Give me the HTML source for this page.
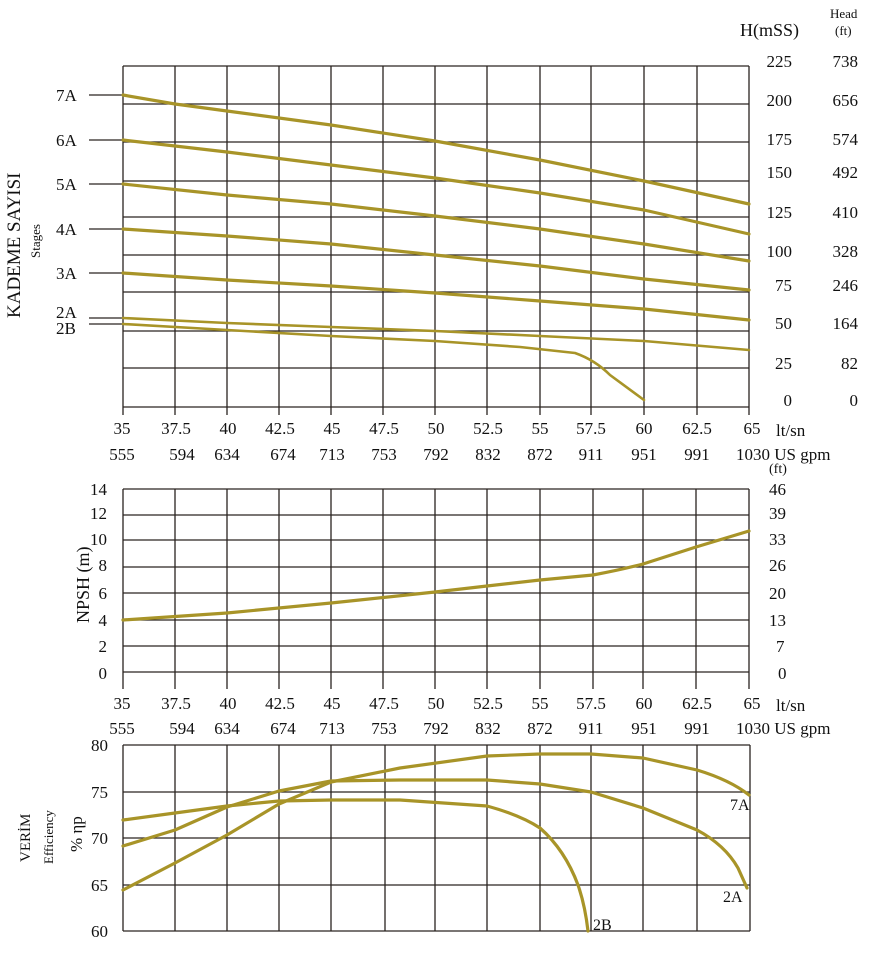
<!DOCTYPE html>
<html><head><meta charset="utf-8"><style>
body{margin:0;background:#fff}
svg{display:block}
text{font-family:"Liberation Serif",serif;fill:#111}
.g line{stroke:#2a2420;stroke-width:1.3}
.c{fill:none;stroke:#a89428;stroke-width:3.2;stroke-linecap:round;stroke-linejoin:round}
.t{font-size:17px}
</style></head><body>
<svg width="870" height="957" viewBox="0 0 870 957">
<!-- TOP CHART -->
<g class="g">
<line x1="123" y1="66" x2="749" y2="66"/><line x1="123" y1="104" x2="749" y2="104"/><line x1="123" y1="142" x2="749" y2="142"/><line x1="123" y1="181" x2="749" y2="181"/><line x1="123" y1="217" x2="749" y2="217"/><line x1="123" y1="255" x2="749" y2="255"/><line x1="123" y1="292" x2="749" y2="292"/><line x1="123" y1="331" x2="749" y2="331"/><line x1="123" y1="368" x2="749" y2="368"/><line x1="123" y1="407" x2="749" y2="407"/>
<line x1="123" y1="66" x2="123" y2="415"/><line x1="175" y1="66" x2="175" y2="415"/><line x1="227" y1="66" x2="227" y2="415"/><line x1="279" y1="66" x2="279" y2="415"/><line x1="331" y1="66" x2="331" y2="415"/><line x1="383" y1="66" x2="383" y2="415"/><line x1="435" y1="66" x2="435" y2="415"/><line x1="487" y1="66" x2="487" y2="415"/><line x1="540" y1="66" x2="540" y2="415"/><line x1="591" y1="66" x2="591" y2="415"/><line x1="644" y1="66" x2="644" y2="415"/><line x1="697" y1="66" x2="697" y2="415"/><line x1="749" y1="66" x2="749" y2="415"/>
<line x1="89" y1="95" x2="123" y2="95"/><line x1="89" y1="140" x2="123" y2="140"/><line x1="89" y1="184" x2="123" y2="184"/><line x1="89" y1="229" x2="123" y2="229"/><line x1="89" y1="273" x2="123" y2="273"/><line x1="89" y1="318" x2="123" y2="318"/><line x1="89" y1="324" x2="123" y2="324"/>
</g>
<path class="c" d="M123,95 L175,104 L227,111 L331,125 L435,141 L540,160 L644,181 L749,204"/>
<path class="c" d="M123,140 L175,146 L227,152 L331,165 L435,178 L540,193 L644,210 L749,234"/>
<path class="c" d="M123,184 L227,195 L331,204 L435,216 L540,229 L644,244 L749,261"/>
<path class="c" d="M123,229 L227,236 L331,244 L435,255 L540,266 L644,279 L749,290"/>
<path class="c" d="M123,273 L227,280 L331,286 L435,293 L540,301 L644,309 L749,320"/>
<path class="c" style="stroke-width:2.6" d="M123,318 L227,323 L331,327 L435,331 L540,336 L644,341 L749,350"/>
<path class="c" style="stroke-width:2.6" d="M123,324 L227,330 L331,336 L435,341 L520,347 L575,353 Q595,360 610,375 L644,400"/>
<g class="t">
<text x="56" y="101">7A</text><text x="56" y="146">6A</text><text x="56" y="190">5A</text><text x="56" y="235">4A</text><text x="56" y="279">3A</text><text x="56" y="318">2A</text><text x="56" y="334">2B</text>
</g>
<text transform="translate(20,318) rotate(-90)" font-size="19">KADEME SAYISI</text>
<text transform="translate(40,258) rotate(-90)" font-size="13">Stages</text>
<text x="740" y="36" font-size="18">H(mSS)</text>
<text x="830" y="18" font-size="13">Head</text><text x="835" y="35" font-size="13">(ft)</text>
<g class="t" text-anchor="end">
<text x="792" y="67">225</text><text x="792" y="106">200</text><text x="792" y="145">175</text><text x="792" y="178">150</text><text x="792" y="218">125</text><text x="792" y="257">100</text><text x="792" y="291">75</text><text x="792" y="329">50</text><text x="792" y="369">25</text><text x="792" y="406">0</text>
<text x="858" y="67">738</text><text x="858" y="106">656</text><text x="858" y="145">574</text><text x="858" y="178">492</text><text x="858" y="218">410</text><text x="858" y="257">328</text><text x="858" y="291">246</text><text x="858" y="329">164</text><text x="858" y="369">82</text><text x="858" y="406">0</text>
</g>
<g class="t" text-anchor="middle">
<text x="122" y="434">35</text><text x="176" y="434">37.5</text><text x="228" y="434">40</text><text x="280" y="434">42.5</text><text x="332" y="434">45</text><text x="384" y="434">47.5</text><text x="436" y="434">50</text><text x="488" y="434">52.5</text><text x="540" y="434">55</text><text x="591" y="434">57.5</text><text x="644" y="434">60</text><text x="697" y="434">62.5</text><text x="752" y="434">65</text>
<text x="122" y="460">555</text><text x="182" y="460">594</text><text x="227" y="460">634</text><text x="283" y="460">674</text><text x="332" y="460">713</text><text x="384" y="460">753</text><text x="436" y="460">792</text><text x="488" y="460">832</text><text x="540" y="460">872</text><text x="591" y="460">911</text><text x="644" y="460">951</text><text x="697" y="460">991</text>
</g>
<text x="736" y="460" class="t">1030 US gpm</text>
<text x="776" y="436" class="t">lt/sn</text>
<!-- MIDDLE CHART -->
<g class="g">
<line x1="123" y1="489" x2="749" y2="489"/><line x1="123" y1="515" x2="749" y2="515"/><line x1="123" y1="540" x2="749" y2="540"/><line x1="123" y1="567" x2="749" y2="567"/><line x1="123" y1="593" x2="749" y2="593"/><line x1="123" y1="620" x2="749" y2="620"/><line x1="123" y1="646" x2="749" y2="646"/><line x1="123" y1="672" x2="749" y2="672"/>
<line x1="123" y1="489" x2="123" y2="689"/><line x1="175" y1="489" x2="175" y2="689"/><line x1="227" y1="489" x2="227" y2="689"/><line x1="279" y1="489" x2="279" y2="689"/><line x1="331" y1="489" x2="331" y2="689"/><line x1="383" y1="489" x2="383" y2="689"/><line x1="435" y1="489" x2="435" y2="689"/><line x1="487" y1="489" x2="487" y2="689"/><line x1="540" y1="489" x2="540" y2="689"/><line x1="593" y1="489" x2="593" y2="689"/><line x1="643" y1="489" x2="643" y2="689"/><line x1="696" y1="489" x2="696" y2="689"/><line x1="749" y1="489" x2="749" y2="689"/>
</g>
<path class="c" d="M123,620 L227,613 L331,603 L435,592 L487,586 L540,580 L593,575 Q620,570 643,564 L696,547 L749,531"/>
<g class="t" text-anchor="end">
<text x="107" y="495">14</text><text x="107" y="519">12</text><text x="107" y="545">10</text><text x="107" y="571">8</text><text x="107" y="599">6</text><text x="107" y="626">4</text><text x="107" y="652">2</text><text x="107" y="679">0</text>
</g>
<g class="t">
<text x="769" y="495">46</text><text x="769" y="519">39</text><text x="769" y="545">33</text><text x="769" y="571">26</text><text x="769" y="599">20</text><text x="769" y="626">13</text><text x="776" y="652">7</text><text x="778" y="679">0</text>
<text x="769" y="473" font-size="14">(ft)</text>
</g>
<text transform="translate(89,623) rotate(-90)" font-size="18">NPSH (m)</text>
<g class="t" text-anchor="middle">
<text x="122" y="709">35</text><text x="176" y="709">37.5</text><text x="228" y="709">40</text><text x="280" y="709">42.5</text><text x="332" y="709">45</text><text x="384" y="709">47.5</text><text x="436" y="709">50</text><text x="488" y="709">52.5</text><text x="540" y="709">55</text><text x="591" y="709">57.5</text><text x="644" y="709">60</text><text x="697" y="709">62.5</text><text x="752" y="709">65</text>
<text x="122" y="734">555</text><text x="182" y="734">594</text><text x="227" y="734">634</text><text x="283" y="734">674</text><text x="332" y="734">713</text><text x="384" y="734">753</text><text x="436" y="734">792</text><text x="488" y="734">832</text><text x="540" y="734">872</text><text x="591" y="734">911</text><text x="644" y="734">951</text><text x="697" y="734">991</text>
</g>
<text x="736" y="734" class="t">1030 US gpm</text>
<text x="776" y="711" class="t">lt/sn</text>
<!-- BOTTOM CHART -->
<g class="g">
<line x1="123" y1="745" x2="750" y2="745"/><line x1="123" y1="792" x2="750" y2="792"/><line x1="123" y1="838" x2="750" y2="838"/><line x1="123" y1="885" x2="750" y2="885"/><line x1="123" y1="931" x2="750" y2="931"/>
<line x1="123" y1="745" x2="123" y2="931"/><line x1="175" y1="745" x2="175" y2="931"/><line x1="227" y1="745" x2="227" y2="931"/><line x1="279" y1="745" x2="279" y2="931"/><line x1="331" y1="745" x2="331" y2="931"/><line x1="385" y1="745" x2="385" y2="931"/><line x1="435" y1="745" x2="435" y2="931"/><line x1="487" y1="745" x2="487" y2="931"/><line x1="540" y1="745" x2="540" y2="931"/><line x1="591" y1="745" x2="591" y2="931"/><line x1="643" y1="745" x2="643" y2="931"/><line x1="697" y1="745" x2="697" y2="931"/><line x1="750" y1="745" x2="750" y2="931"/>
</g>
<path class="c" d="M123,820 L175,813 L227,806 L279,801 L331,800 L400,800 L487,806 Q520,815 540,828 Q565,850 578,885 Q585,905 588,931"/>
<path class="c" d="M123,846 L175,830 L227,807 L279,791 L331,781 L400,780 L487,780 L540,784 L591,792 L643,808 L697,830 Q725,845 738,868 L747,888"/>
<path class="c" d="M123,890 L175,863 L227,835 L279,804 L331,782 L400,768 L487,756 L540,754 L591,754 L643,758 L697,770 Q730,780 749,795"/>
<g class="t">
<text x="730" y="810" font-size="16">7A</text><text x="723" y="902" font-size="16">2A</text><text x="593" y="930" font-size="16">2B</text>
</g>
<g class="t" text-anchor="end">
<text x="108" y="751">80</text><text x="108" y="798">75</text><text x="108" y="844">70</text><text x="108" y="891">65</text><text x="108" y="937">60</text>
</g>
<text transform="translate(30,862) rotate(-90)" font-size="15">VERİM</text>
<text transform="translate(53,864) rotate(-90)" font-size="13">Efficiency</text>
<text transform="translate(82,852) rotate(-90)" font-size="17">% ηp</text>
</svg>
</body></html>
